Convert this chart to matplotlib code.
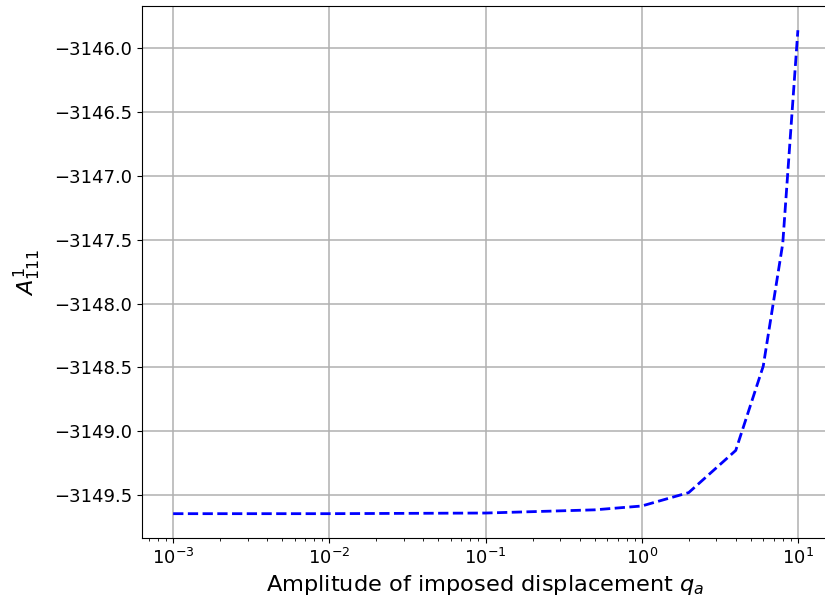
import matplotlib
matplotlib.use("Agg")
import matplotlib.pyplot as plt

# amplitude of imposed displacement and the A^1_111 coefficient
q_a = [1e-3, 1e-2, 1e-1, 0.5, 1, 2, 4, 6, 8, 10]
a111 = [-3149.645, -3149.645, -3149.64, -3149.615, -3149.585,
        -3149.48, -3149.15, -3148.49, -3147.53, -3145.86]

fig = plt.figure(figsize=(8.25, 6.05), dpi=100)
ax = fig.add_axes([0.172, 0.111, 0.833, 0.879])

ax.plot(q_a, a111, "b--", linewidth=2)
ax.set_xscale("log")
ax.grid(True, which="major", color="#b0b0b0", linewidth=1.1)

ax.set_xlabel("Amplitude of imposed displacement $q_a$", fontsize=16.2)
ax.set_ylabel("$A^1_{111}$", fontsize=16.2, labelpad=8)
ax.tick_params(labelsize=13)
ax.ticklabel_format(axis="y", useOffset=False)

fig.savefig("out.png", dpi=100)
